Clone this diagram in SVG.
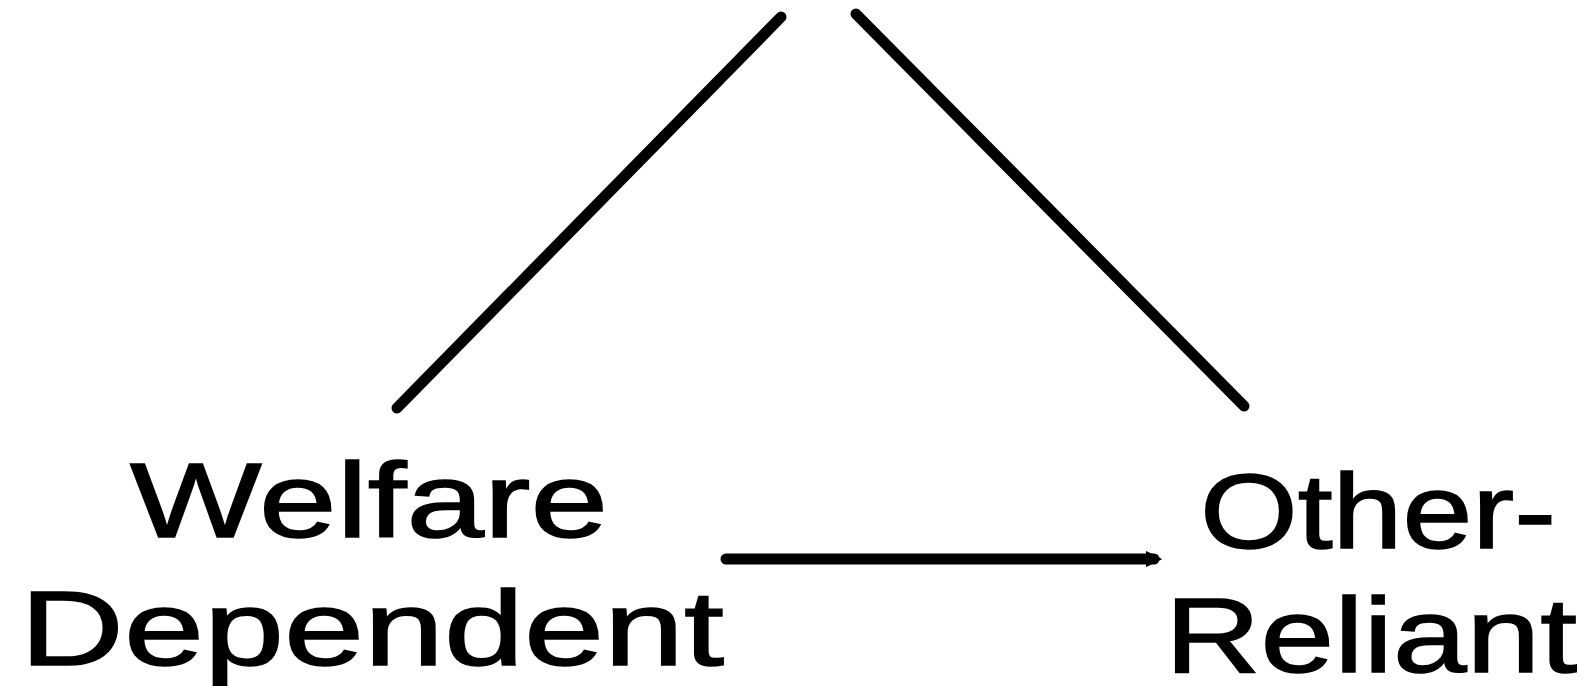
<svg xmlns="http://www.w3.org/2000/svg" width="1595" height="686" viewBox="0 0 1595 686">
<style>
.lbl{font-family:"Liberation Sans",Arial,sans-serif;font-size:106px;fill:#000;stroke:#000;stroke-width:1.5}
.ln{stroke:#000;stroke-width:11;stroke-linecap:round;fill:none}
</style>
<defs>
<marker id="ah" viewBox="0 0 6 6" refX="3" refY="3" markerWidth="1.5" markerHeight="1.5" orient="auto" markerUnits="strokeWidth">
<path d="M0,0 L6,3 L0,6 z" fill="#000"/>
</marker>
</defs>
<rect width="1595" height="686" fill="#fff"/>
<g id="connectors">
<line class="ln" x1="397" y1="408" x2="781" y2="17"/>
<line class="ln" x1="856" y1="14" x2="1244" y2="406"/>
<line class="ln" x1="726" y1="559" x2="1154" y2="559" marker-end="url(#ah)"/>
</g>
<g id="welfare-dependent">
<text class="lbl" x="130" y="537" textLength="478" lengthAdjust="spacingAndGlyphs">Welfare</text>
<text class="lbl" x="20" y="665" textLength="704" lengthAdjust="spacingAndGlyphs">Dependent</text>
</g>
<g id="other-reliant">
<text class="lbl" x="1200" y="548" textLength="356" lengthAdjust="spacingAndGlyphs">Other-</text>
<text class="lbl" x="1165" y="672" textLength="412" lengthAdjust="spacingAndGlyphs">Reliant</text>
</g>
</svg>
